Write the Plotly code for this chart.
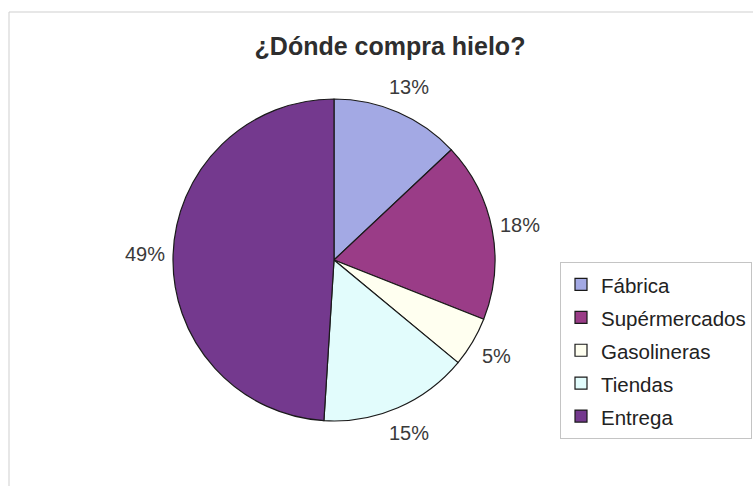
import math
import plotly.graph_objects as go

# Survey: where people buy ice
categories = ["Fábrica", "Supérmercados", "Gasolineras", "Tiendas", "Entrega"]
shares = [13, 18, 5, 15, 49]
slice_colors = ["#A3A9E4", "#9A3C87", "#FFFFF0", "#E2FCFC", "#74398E"]

W, H = 753, 486
FONT = "Liberation Sans, Arial, sans-serif"

# pie placement in pixels (centre and radius)
cx, cy, R = 334, 260, 161
label_dist = R + 28

# legend rows are spaced by the legend font size; the visible text is a bit smaller
legend_labels = [f'<span style="font-size:20.5px">{c}</span>' for c in categories]

fig = go.Figure(
    go.Pie(
        labels=legend_labels,
        values=shares,
        sort=False,
        direction="clockwise",
        rotation=0,
        marker=dict(colors=slice_colors, line=dict(color="#1a1a1a", width=1.2)),
        textinfo="none",
        customdata=categories,
        hovertemplate="%{customdata}: %{percent}<extra></extra>",
        domain=dict(x=[(cx - R) / W, (cx + R) / W], y=[(H - cy - R) / H, (H - cy + R) / H]),
    )
)

# percentage labels set outside each slice, at the slice's mid angle
annotations = []
total = sum(shares)
acc = 0.0
for v in shares:
    mid = (acc + v / 2) / total * 2 * math.pi
    acc += v
    px = cx + label_dist * math.sin(mid)
    py = cy - label_dist * math.cos(mid)
    annotations.append(
        dict(
            text=f"{v}%",
            x=px / W,
            y=1 - py / H,
            xref="paper",
            yref="paper",
            xanchor="center",
            yanchor="middle",
            showarrow=False,
            font=dict(family=FONT, size=20, color="#3a3a3a"),
        )
    )

fig.update_layout(
    width=W,
    height=H,
    margin=dict(l=0, r=0, t=0, b=0, autoexpand=False),
    paper_bgcolor="white",
    font=dict(family=FONT, color="#222222"),
    title=dict(
        text="<b>¿Dónde compra hielo?</b>",
        x=390 / W,
        xanchor="center",
        y=1 - 46 / H,
        yanchor="middle",
        font=dict(size=25, color="#2e2e2e"),
    ),
    showlegend=True,
    legend=dict(
        x=560 / W,
        xanchor="left",
        y=1 - 262 / H,
        yanchor="top",
        bordercolor="#c4c4c4",
        borderwidth=1,
        font=dict(size=23, color="#222222"),
        itemwidth=30,
    ),
    annotations=annotations,
    shapes=[
        dict(
            type="rect",
            xref="paper",
            yref="paper",
            x0=9 / W,
            x1=1.05,
            y0=-0.05,
            y1=1 - 12 / H,
            line=dict(color="#cfcfcf", width=1),
        )
    ],
)

fig.write_html("out.html")
